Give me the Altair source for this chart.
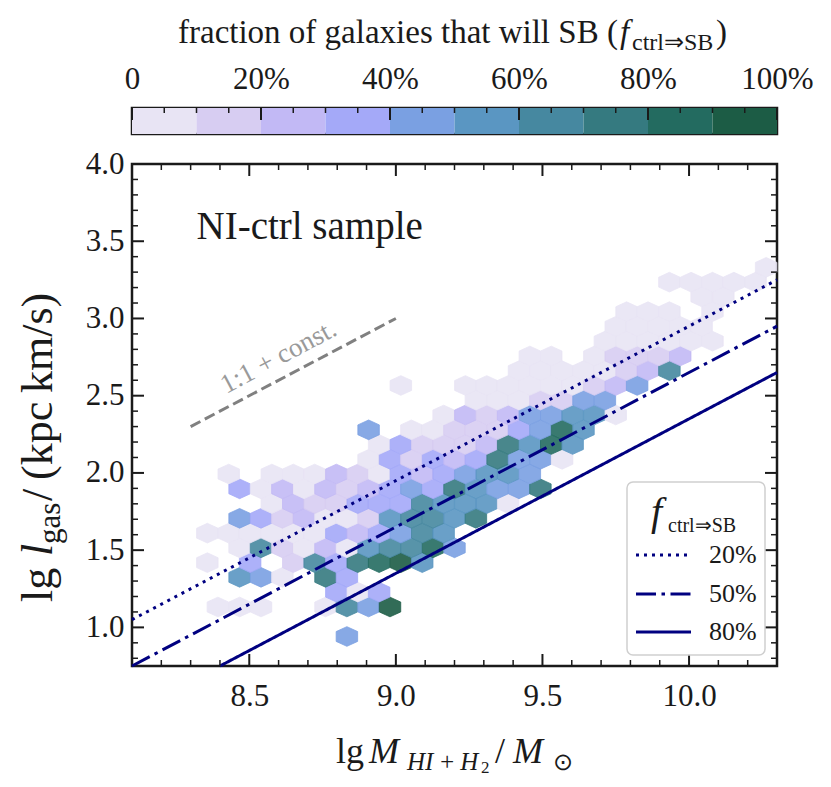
import altair as alt
import pandas as pd

FONT = "Liberation Serif"
INK = "#1a1a1a"
NAVY = "#000080"
GREY = "#808080"

# ---------------- hexbin cells (centres) ----------------
hex_row_y = [0.941, 1.132, 1.228, 1.324, 1.419, 1.515, 1.610, 1.706, 1.801, 1.897,
             1.993, 2.088, 2.184, 2.279, 2.375, 2.471, 2.566, 2.662, 2.757, 2.853,
             2.949, 3.044, 3.140, 3.235, 3.331]
hex_row_x = [
    [8.833],
    [8.393, 8.467, 8.540, 8.760, 8.833, 8.907, 8.980],
    [8.797, 8.870, 8.943],
    [8.467, 8.540, 8.613, 8.760, 8.833],
    [8.357, 8.503, 8.650, 8.723, 8.797, 8.870, 8.943, 9.017, 9.090],
    [8.467, 8.540, 8.613, 8.687, 8.760, 8.833, 8.907, 8.980, 9.053, 9.127, 9.200],
    [8.357, 8.430, 8.503, 8.577, 8.650, 8.723, 8.797, 8.870, 8.943, 9.017, 9.090, 9.163],
    [8.467, 8.540, 8.613, 8.687, 8.760, 8.833, 8.907, 8.980, 9.053, 9.127, 9.200, 9.273],
    [8.577, 8.650, 8.723, 8.797, 8.870, 8.943, 9.017, 9.090, 9.163, 9.237, 9.310, 9.383],
    [8.467, 8.540, 8.613, 8.687, 8.760, 8.833, 8.907, 8.980, 9.053, 9.127, 9.200, 9.273,
     9.347, 9.420, 9.493],
    [8.430, 8.577, 8.650, 8.723, 8.797, 8.870, 8.943, 9.017, 9.090, 9.163, 9.237, 9.310,
     9.383, 9.457],
    [8.907, 8.980, 9.053, 9.127, 9.200, 9.273, 9.347, 9.420, 9.493, 9.567],
    [8.943, 9.017, 9.090, 9.163, 9.237, 9.310, 9.383, 9.457, 9.530, 9.603],
    [8.907, 9.053, 9.127, 9.200, 9.273, 9.347, 9.420, 9.493, 9.567, 9.640],
    [9.163, 9.237, 9.310, 9.383, 9.457, 9.530, 9.603, 9.677, 9.750],
    [9.273, 9.347, 9.420, 9.493, 9.567, 9.640, 9.713],
    [9.017, 9.237, 9.310, 9.383, 9.457, 9.530, 9.603, 9.677, 9.750, 9.823],
    [9.420, 9.493, 9.567, 9.640, 9.713, 9.787, 9.860, 9.933],
    [9.457, 9.530, 9.677, 9.750, 9.823, 9.897, 9.970],
    [9.713, 9.787, 9.860, 9.933, 10.007, 10.080],
    [9.750, 9.823, 9.897, 9.970, 10.043],
    [9.787, 9.860, 9.933, 10.080],
    [10.043, 10.117],
    [9.933, 10.007, 10.080, 10.153, 10.227],
    [10.263],
]
hex_row_frac = [
    [45],
    [5, 5, 5, 5, 65, 45, 95],
    [35, 5, 35],
    [55, 45, 5, 75, 35],
    [5, 35, 15, 65, 35, 75, 85, 95, 55],
    [5, 65, 15, 5, 25, 5, 55, 65, 65, 85, 45],
    [5, 5, 5, 5, 5, 5, 35, 25, 35, 45, 65, 55],
    [45, 35, 15, 25, 5, 5, 15, 55, 65, 65, 55, 75],
    [5, 25, 15, 15, 35, 35, 35, 65, 55, 55, 55, 5],
    [35, 5, 25, 5, 25, 15, 25, 35, 45, 35, 75, 55, 45, 45, 75],
    [5, 5, 5, 5, 25, 15, 5, 35, 25, 35, 45, 55, 55, 45],
    [5, 35, 15, 35, 25, 35, 75, 45, 45, 5],
    [5, 35, 15, 15, 15, 25, 75, 55, 85, 55],
    [45, 5, 5, 15, 15, 15, 35, 45, 85, 55],
    [5, 25, 15, 25, 45, 45, 55, 55, 5],
    [5, 5, 5, 15, 15, 45, 45],
    [5, 5, 5, 5, 5, 5, 5, 15, 25, 45],
    [5, 5, 5, 5, 5, 15, 25, 65],
    [5, 5, 5, 15, 15, 15, 25],
    [5, 5, 5, 5, 5, 5],
    [5, 5, 5, 5, 5],
    [5, 5, 5, 5],
    [5, 5],
    [5, 5, 5, 5, 5],
    [5],
]

# ---------------- colour bins ----------------
bin_lo = [0, 10, 20, 30, 40, 50, 60, 70, 80, 90]
bin_hi = [10, 20, 30, 40, 50, 60, 70, 80, 90, 100]
bin_thresholds = [10, 20, 30, 40, 50, 60, 70, 80, 90]
bin_colors = ["#e8e4f4", "#d7cdf2", "#c2b9f5", "#a4a9f8", "#7aa0e2",
              "#5a96c2", "#4688a0", "#357a80", "#236b60", "#1c5c45"]
cb_major = [0, 20, 40, 60, 80, 100]
cb_minor = [5, 10, 15, 25, 30, 35, 45, 50, 55, 65, 70, 75, 85, 90, 95]

# ---------------- lines ----------------
line_names = ["20%", "50%", "80%"]
line_dashes = [[3, 5], [20, 5.5, 3.5, 5.5], [1, 0]]
line_x0 = [8.1, 8.1, 8.4]
line_y0 = [1.05, 0.75, 0.75]
line_x1 = [10.3, 10.3, 10.3]
line_y1 = [3.25, 2.95, 2.65]
ref_x = [8.3, 9.0]
ref_y = [2.3, 3.0]

# ---------------- ticks ----------------
x_major = [8.5, 9.0, 9.5, 10.0]
x_minor = [8.2, 8.3, 8.4, 8.6, 8.7, 8.8, 8.9, 9.1, 9.2, 9.3, 9.4, 9.6, 9.7, 9.8, 9.9,
           10.1, 10.2]
y_major = [1.0, 1.5, 2.0, 2.5, 3.0, 3.5, 4.0]
y_minor = [0.8, 0.9, 1.1, 1.2, 1.3, 1.4, 1.6, 1.7, 1.8, 1.9, 2.1, 2.2, 2.3, 2.4,
           2.6, 2.7, 2.8, 2.9, 3.1, 3.2, 3.3, 3.4, 3.6, 3.7, 3.8, 3.9]

# ---------------- texts ----------------
sample_label = "NI-ctrl sample"
sample_xy = (8.32, 3.515)
ref_label = "1:1 + const."
ref_label_xy = (8.60, 2.75)
cb_title = "fraction of galaxies that will SB ("
sub_label = "ctrl\u21d2SB"

W, H = 645, 502
CB_H = 26
HEX = "M0,-0.916L1,-0.458L1,0.458L0,0.916L-1,0.458L-1,-0.458Z"

xs = alt.Scale(domain=[8.1, 10.3], nice=False, zero=False)
ys = alt.Scale(domain=[0.75, 4.0], nice=False, zero=False)
color_scale = alt.Scale(type="threshold", domain=bin_thresholds, range=bin_colors)

hex_df = pd.DataFrame([{"x": x, "y": y, "frac": f}
                       for y, xr, fr in zip(hex_row_y, hex_row_x, hex_row_frac)
                       for x, f in zip(xr, fr)])

one = pd.DataFrame({"a": [0]})


def piece(text, x, y, size, italic=False, angle=0, align="left", color=INK,
          baseline="alphabetic"):
    kw = dict(text=text, font=FONT, fontSize=size, color=color, align=align,
              baseline=baseline)
    if italic:
        kw["fontStyle"] = "italic"
    if angle:
        kw["angle"] = angle
    return alt.Chart(one).mark_text(**kw).encode(x=alt.value(x), y=alt.value(y))


x_axis = alt.Axis(values=x_major, format=".1f", ticks=False, tickSize=0, domain=False,
                  grid=False, labelFont=FONT, labelFontSize=31, labelColor=INK,
                  labelPadding=15, labelFlush=False, title=None)
y_axis = alt.Axis(values=y_major, format=".1f", ticks=False, tickSize=0, domain=False,
                  grid=False, labelFont=FONT, labelFontSize=31, labelColor=INK,
                  labelPadding=8, labelFlush=False, title=None)


def X(field):
    return alt.X(field, scale=xs, axis=x_axis)


def Y(field):
    return alt.Y(field, scale=ys, axis=y_axis)


hexes = alt.Chart(hex_df).mark_point(
    shape=HEX, filled=True, size=462, opacity=1, fillOpacity=0.9,
    strokeWidth=0.8, strokeOpacity=0.95
).encode(
    x=X("x:Q"), y=Y("y:Q"),
    fill=alt.Fill("frac:Q", scale=color_scale, legend=None),
    stroke=alt.Stroke("frac:Q", scale=color_scale, legend=None),
)

ref_df = pd.DataFrame({"x": ref_x, "y": ref_y})
ref_line = alt.Chart(ref_df).mark_line(color=GREY, strokeWidth=3, strokeDash=[11, 5]).encode(
    x=X("x:Q"), y=Y("y:Q"))

ref_text = alt.Chart(pd.DataFrame({"x": [ref_label_xy[0]], "y": [ref_label_xy[1]],
                                   "t": [ref_label]})).mark_text(
    angle=332, font=FONT, fontSize=27, color="#9a9a9a", align="center", baseline="middle"
).encode(x=X("x:Q"), y=Y("y:Q"), text="t:N")

ann_text = alt.Chart(pd.DataFrame({"x": [sample_xy[0]], "y": [sample_xy[1]],
                                   "t": [sample_label]})).mark_text(
    font=FONT, fontSize=39, color=INK, align="left", baseline="alphabetic"
).encode(x=X("x:Q"), y=Y("y:Q"), text="t:N")

line_rows = []
for n, a0, b0, a1, b1 in zip(line_names, line_x0, line_y0, line_x1, line_y1):
    line_rows.append({"name": n, "x": a0, "y": b0})
    line_rows.append({"name": n, "x": a1, "y": b1})
line_df = pd.DataFrame(line_rows)

lines = alt.Chart(line_df).mark_line(color=NAVY, strokeWidth=3, strokeCap="butt").encode(
    x=X("x:Q"), y=Y("y:Q"),
    strokeDash=alt.StrokeDash("name:N", scale=alt.Scale(domain=line_names, range=line_dashes),
                              legend=None),
)


def xticks(values, length, width):
    base = alt.Chart(pd.DataFrame({"v": values})).mark_rule(color=INK, strokeWidth=width)
    return [base.encode(x=X("v:Q"), y=alt.value(H), y2=alt.value(H - length)),
            base.encode(x=X("v:Q"), y=alt.value(0), y2=alt.value(length))]


def yticks(values, length, width):
    base = alt.Chart(pd.DataFrame({"v": values})).mark_rule(color=INK, strokeWidth=width)
    return [base.encode(y=Y("v:Q"), x=alt.value(0), x2=alt.value(length)),
            base.encode(y=Y("v:Q"), x=alt.value(W), x2=alt.value(W - length))]


ticks = xticks(x_major, 12, 2) + xticks(x_minor, 6, 1.5) + yticks(y_major, 12, 2) + yticks(y_minor, 6, 1.5)

# ---------------- legend (drawn as a boxed key inside the plot) ----------------
LG_LEFT, LG_TOP, LG_RIGHT, LG_BOTTOM = 495, 318, 633, 491
LG_ROWS = [391, 430, 468]
legend_box = alt.Chart(one).mark_rect(
    fill="white", fillOpacity=0.85, stroke="#cfcfcf", strokeWidth=1.5, cornerRadius=6
).encode(x=alt.value(LG_LEFT), x2=alt.value(LG_RIGHT), y=alt.value(LG_TOP),
         y2=alt.value(LG_BOTTOM))
legend_items = []
for name, dash, ry in zip(line_names, line_dashes, LG_ROWS):
    legend_items.append(
        alt.Chart(one).mark_rule(color=NAVY, strokeWidth=3, strokeDash=dash, strokeCap="butt")
        .encode(x=alt.value(504), x2=alt.value(559), y=alt.value(ry)))
    legend_items.append(piece(name, 577, ry, 26, baseline="middle"))
legend_items.append(piece("f", 519, 361, 40, italic=True))
legend_items.append(piece(sub_label, 536, 368, 20))

x_title = [
    piece("lg", 204, 599, 36),
    piece("M", 237, 599, 36, italic=True),
    piece("HI\u2009+\u2009H", 275, 606, 25, italic=True),
    piece("2", 349, 609, 17),
    piece("/", 363, 599, 36),
    piece("M", 381, 599, 36, italic=True),
    piece("\u2299", 421, 606, 24),
]
y_title = [
    piece("lg", -80, 438, 44, angle=270),
    piece("l", -80, 392, 44, italic=True, angle=270),
    piece("gas", -72, 380, 31, angle=270),
    piece("/\u2009(kpc\u2009km/s)", -80, 337, 44, angle=270),
]

main = alt.layer(hexes, ref_line, ref_text, ann_text, lines, *ticks, legend_box,
                 *legend_items, *x_title, *y_title).properties(width=W, height=H)

cb_df = pd.DataFrame({"lo": bin_lo, "hi": bin_hi})
cb_scale = alt.Scale(domain=[0, 100], nice=False, zero=False)
cb_axis = alt.Axis(orient="top", values=cb_major,
                   labelExpr="datum.value == 0 ? '0' : datum.value + '%'",
                   ticks=False, tickSize=0, domain=False, grid=False, labelFont=FONT,
                   labelFontSize=31, labelColor=INK, labelPadding=13, labelFlush=False,
                   title=None)
cb_rect = alt.Chart(cb_df).mark_rect().encode(
    x=alt.X("lo:Q", scale=cb_scale, axis=cb_axis),
    x2="hi:Q",
    fill=alt.Fill("lo:Q", scale=color_scale, legend=None),
)


def cbticks(values, length, width):
    return alt.Chart(pd.DataFrame({"v": values})).mark_rule(color=INK, strokeWidth=width).encode(
        x=alt.X("v:Q", scale=cb_scale, axis=cb_axis), y=alt.value(0), y2=alt.value(length))


cb_title_pieces = [
    piece(cb_title, 46, -65, 33),
    piece("f", 488, -65, 33, italic=True),
    piece(sub_label, 500, -58, 24),
    piece(")", 584, -65, 33),
]

cbar = alt.layer(cb_rect, cbticks(cb_major, 12, 2), cbticks(cb_minor, 5, 1.5),
                 *cb_title_pieces).properties(width=W, height=CB_H)

chart = alt.vconcat(cbar, main, spacing=30, bounds="flush").resolve_scale(
    x="independent", y="independent"
).properties(
    padding={"left": 7, "top": 7, "right": 5, "bottom": 5},
    background="white",
).configure_view(stroke=INK, strokeWidth=2.5)

chart.save("out.html", embed_options={"renderer": "svg", "actions": False})
